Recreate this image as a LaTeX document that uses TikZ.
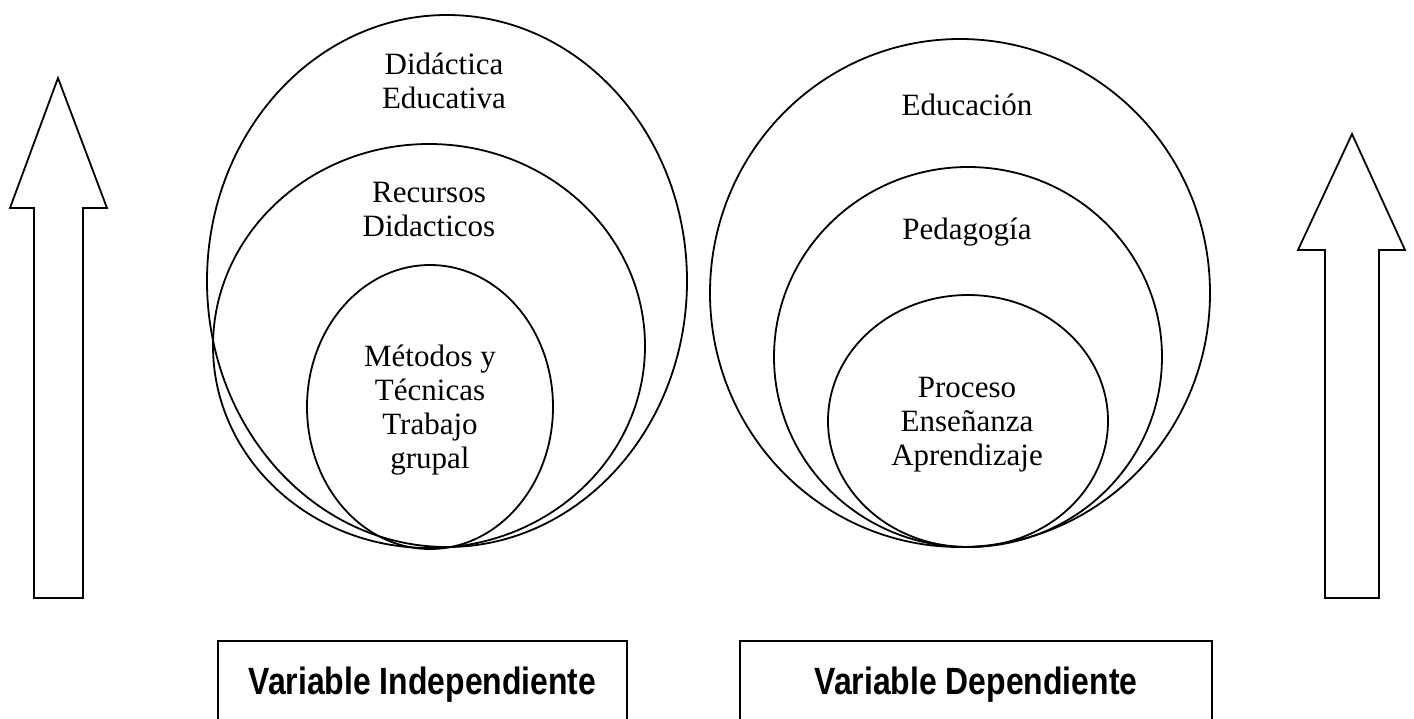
\documentclass[tikz,border=0pt]{standalone}
\usepackage{fontspec}
\setmainfont{Liberation Serif}
\newfontfamily\boxfont[FakeStretch=0.84]{Liberation Sans}
\usepackage{tikz}

\begin{document}
\begin{tikzpicture}[x=1pt,y=-1pt,
  ring/.style={draw,line width=1.8pt},
  bigarrow/.style={draw,line width=1.8pt,line join=miter},
  circtext/.style={align=center,font=\fontsize{31}{34}\selectfont},
  varbox/.style={draw,line width=1.6pt,minimum height=88pt,
    font=\boxfont\bfseries\fontsize{38}{42}\selectfont}]
\useasboundingbox (0,0) rectangle (1414,718);
\clip (0,0) rectangle (1414,718);

\draw[bigarrow] (34,598) -- (34,208) -- (10,208) -- (58,78) -- (107,208) -- (83,208) -- (83,598) -- cycle;
\draw[bigarrow] (1325,598) -- (1325,250) -- (1298,250) -- (1352,134) -- (1405,250) -- (1379,250) -- (1379,598) -- cycle;

\draw[ring] (447,281) ellipse [x radius=240,y radius=266];
\draw[ring] (429,346) ellipse [x radius=216,y radius=202];
\draw[ring] (430,407) ellipse [x radius=123,y radius=142];
\node[circtext] (didactica) at (444,81) {Didáctica\\Educativa};
\node[circtext] (recursos) at (429,209) {Recursos\\Didacticos};
\node[circtext] (metodos) at (430,410) {Métodos y\\Técnicas\\Trabajo\\grupal};

\draw[ring] (960,293) ellipse [x radius=250,y radius=254];
\draw[ring] (968,357) ellipse [x radius=194,y radius=190];
\draw[ring] (968,421) ellipse [x radius=140,y radius=126];
\node[circtext,anchor=base] (educacion) at (967,115) {Educación};
\node[circtext,anchor=base] (pedagogia) at (967,239) {Pedagogía};
\node[circtext] (proceso) at (967,425) {Proceso\\Enseñanza\\Aprendizaje};

\node[varbox,minimum width=409pt] (indep) at (422.5,685) {Variable Independiente};
\node[varbox,minimum width=472pt] (dep) at (976,685) {Variable Dependiente};
\end{tikzpicture}
\end{document}
